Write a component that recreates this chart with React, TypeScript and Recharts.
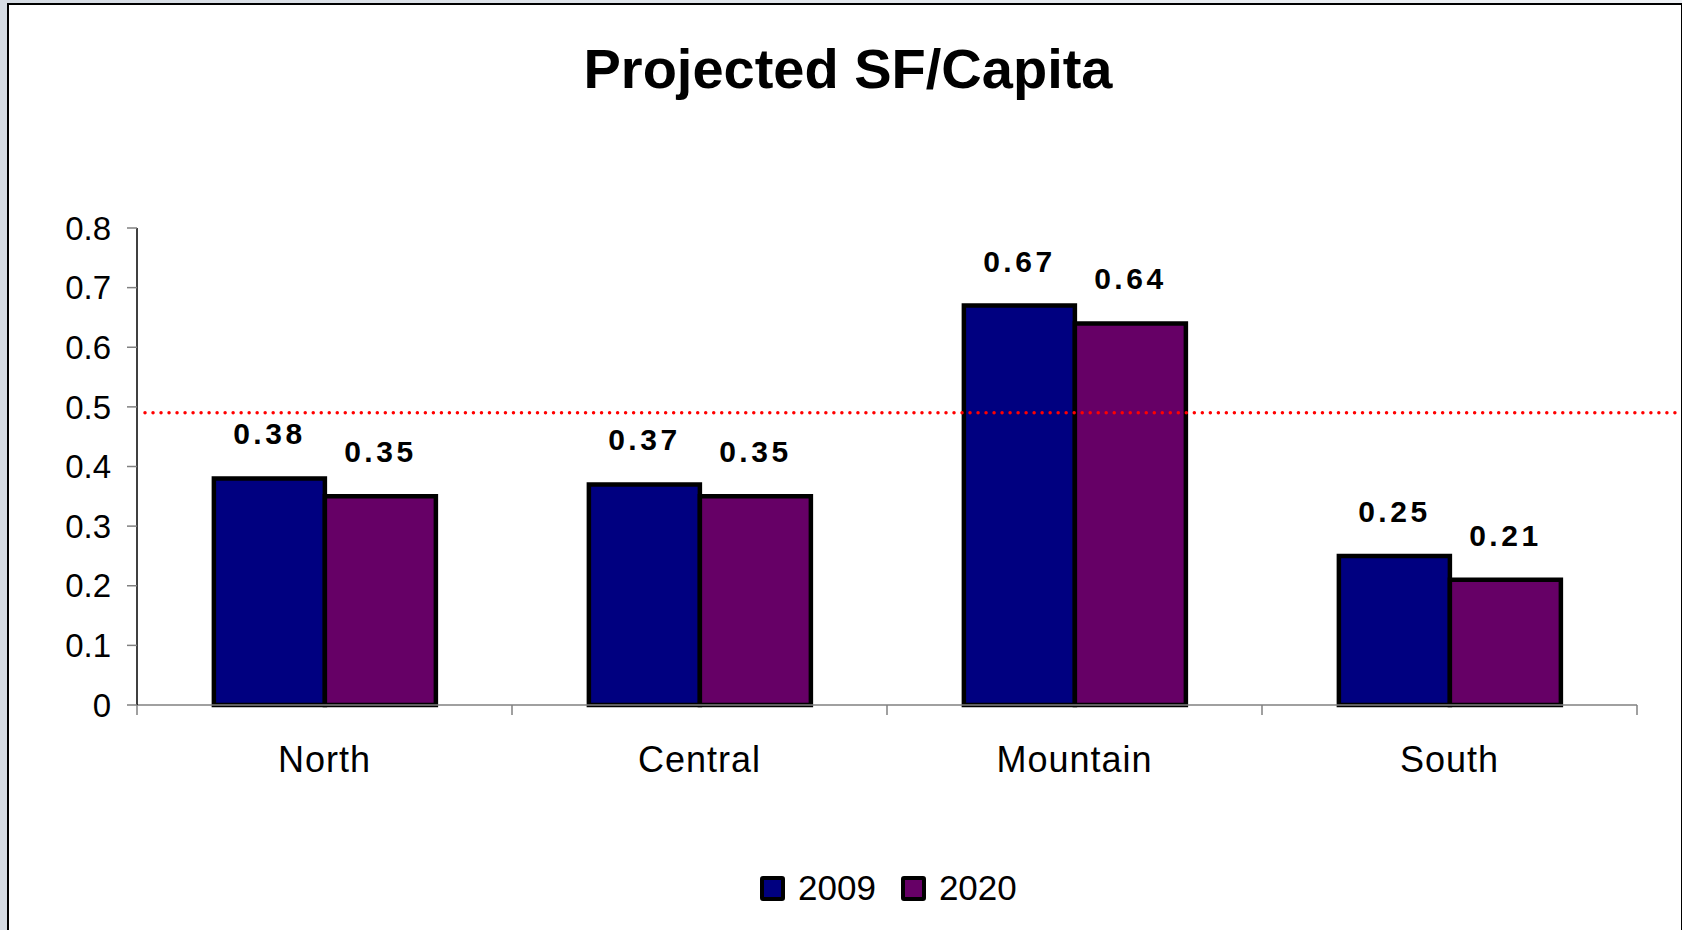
import { Bar, BarChart, LabelList, Legend, ReferenceLine, XAxis, YAxis } from "recharts";

const categories = ["North", "Central", "Mountain", "South"];
const values2009 = [0.38, 0.37, 0.67, 0.25];
const values2020 = [0.35, 0.35, 0.64, 0.21];
const yTicks = [0, 0.1, 0.2, 0.3, 0.4, 0.5, 0.6, 0.7, 0.8];
const targetValue = 0.49;

const FONT = "'Liberation Sans', Arial, sans-serif";
const WIDTH = 1682;
const HEIGHT = 930;

const data = categories.map((name, i) => ({
  name,
  y2009: values2009[i],
  y2020: values2020[i],
}));

function CategoryTick(props: any) {
  const { x, y, payload, index } = props;
  const half = payload && payload.offset ? payload.offset : 187.5;
  const isLast = index === categories.length - 1;
  return (
    <g>
      <line x1={x - half} y1={y} x2={x - half} y2={y + 10} stroke="#808080" strokeWidth={1.5} />
      {isLast && (
        <line x1={x + half} y1={y} x2={x + half} y2={y + 10} stroke="#808080" strokeWidth={1.5} />
      )}
      <text
        x={x}
        y={y + 67}
        textAnchor="middle"
        fontSize={36}
        letterSpacing={1}
        fontFamily={FONT}
        fill="#000"
      >
        {payload.value}
      </text>
    </g>
  );
}

function renderValueLabel(props: any) {
  const x = Number(props.x);
  const y = Number(props.y);
  const width = Number(props.width);
  return (
    <text
      x={x + width / 2}
      y={y - 34}
      textAnchor="middle"
      fontSize={30}
      fontWeight="bold"
      letterSpacing={3.5}
      fontFamily={FONT}
      fill="#000"
    >
      {Number(props.value).toFixed(2)}
    </text>
  );
}

function renderLegend({ payload }: any) {
  return (
    <div style={{ display: "flex", alignItems: "center", fontFamily: FONT }}>
      {payload &&
        payload.map((entry: any, index: number) => (
          <div key={`item-${index}`} style={{ display: "flex", alignItems: "center", marginRight: 25 }}>
            {/* square with series colour */}
            <div
              style={{
                width: 17,
                height: 17,
                border: "4px solid #000",
                borderRadius: 3,
                backgroundColor: entry.color,
                marginRight: 13,
              }}
            ></div>
            <span style={{ fontSize: 35, color: "#000", lineHeight: "36px" }}>{entry.value}</span>
          </div>
        ))}
    </div>
  );
}

function TargetLine(props: any) {
  const { x1, y1, x2 } = props;
  return (
    <line
      x1={x1 + 8}
      y1={y1}
      x2={x2 + 44}
      y2={y1}
      stroke="#ff0000"
      strokeWidth={3.5}
      strokeLinecap="round"
      strokeDasharray="0.01 8"
    />
  );
}

export default function App() {
  return (
    <div
      style={{
        position: "absolute",
        left: 0,
        top: 0,
        width: WIDTH,
        height: HEIGHT,
        overflow: "hidden",
        background: "linear-gradient(90deg, #d5dbe3, #eef1f5)",
        fontFamily: FONT,
      }}
    >
      <div
        style={{
          position: "absolute",
          left: 7,
          top: 3,
          width: 1672,
          height: 960,
          background: "#fff",
          borderLeft: "2px solid #000",
          borderTop: "2px solid #000",
          borderRight: "2px solid #000",
        }}
      ></div>
      <div
        style={{
          position: "absolute",
          left: 8,
          top: 36,
          width: 1680,
          textAlign: "center",
          fontSize: 56,
          fontWeight: "bold",
          color: "#000",
        }}
      >
        Projected SF/Capita
      </div>
      <div style={{ position: "absolute", left: 0, top: 0 }}>
        <BarChart
          width={WIDTH}
          height={HEIGHT}
          data={data}
          margin={{ top: 228, right: 45, bottom: 165, left: 57 }}
          barCategoryGap="20.5%"
          barGap={0}
        >
          <XAxis
            dataKey="name"
            height={60}
            axisLine={{ stroke: "#808080", strokeWidth: 1.5 }}
            tickLine={false}
            tickSize={0}
            tickMargin={0}
            interval={0}
            tick={<CategoryTick />}
          />
          <YAxis
            width={80}
            domain={[0, 0.8]}
            ticks={yTicks}
            interval={0}
            axisLine={{ stroke: "#000", strokeWidth: 1.5 }}
            tickLine={{ stroke: "#808080", strokeWidth: 1.5 }}
            tickSize={10}
            tickMargin={16}
            tick={{ fontSize: 33, fontFamily: FONT, fill: "#000" }}
          />
          <ReferenceLine y={targetValue} shape={TargetLine} />
          <Legend
            verticalAlign="middle"
            align="center"
            layout="horizontal"
            wrapperStyle={{ top: 870, left: 760, width: 400 }}
            content={renderLegend}
          />
          <Bar dataKey="y2009" name="2009" fill="#000080" stroke="#000" strokeWidth={4.5} isAnimationActive={false}>
            <LabelList dataKey="y2009" content={renderValueLabel} />
          </Bar>
          <Bar dataKey="y2020" name="2020" fill="#660066" stroke="#000" strokeWidth={4.5} isAnimationActive={false}>
            <LabelList dataKey="y2020" content={renderValueLabel} />
          </Bar>
        </BarChart>
      </div>
    </div>
  );
}
